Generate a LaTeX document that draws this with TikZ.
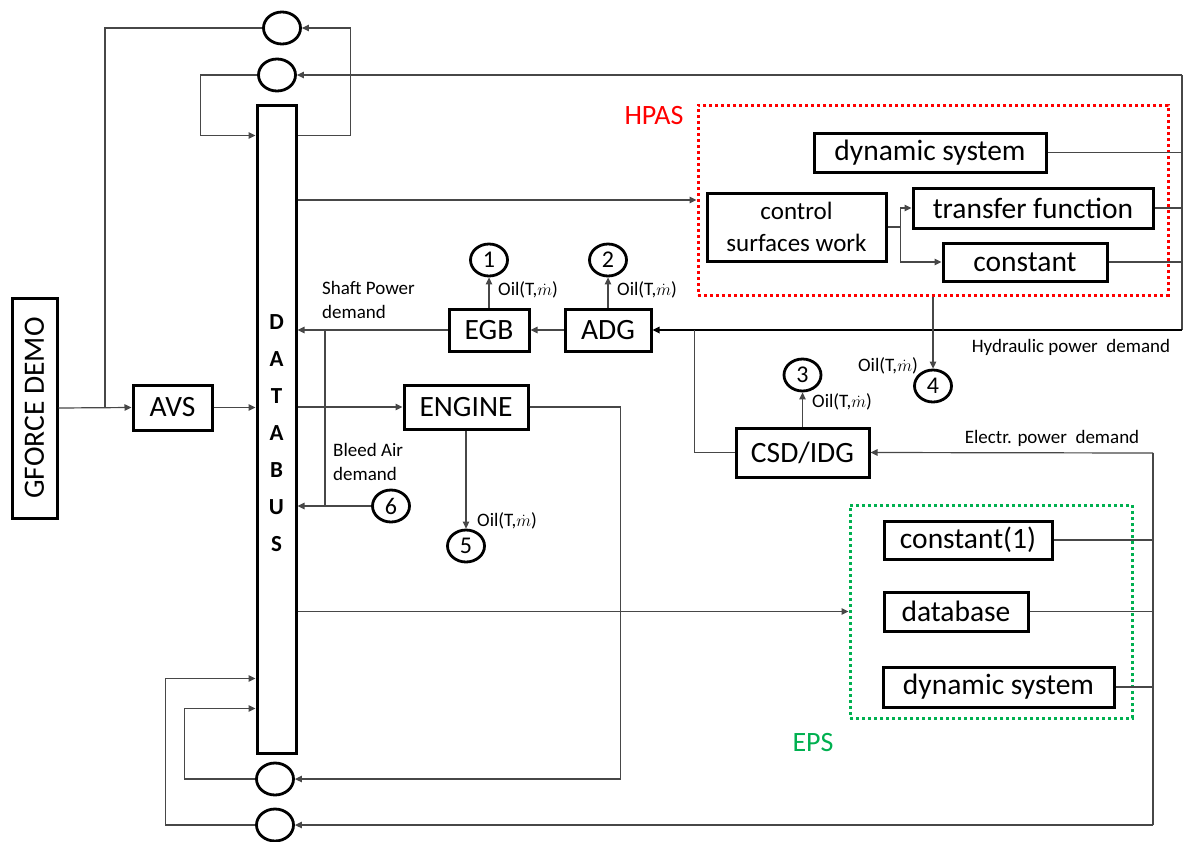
\documentclass[tikz,border=0pt]{standalone}
\usepackage{fontspec}
\setmainfont{Carlito}
\usepackage{xcolor}
\usepackage{tikz}
\usetikzlibrary{
  arrows.meta,
  shapes.geometric,
}

\definecolor{hpasred}{RGB}{255,0,0}
\definecolor{epsgreen}{RGB}{0,176,80}
\newcommand{\oilflow}{Oil(T,$\dot{m}$)}

\begin{document}
\begin{tikzpicture}[
  x=1pt, y=-1pt,
  every node/.style={font=\fontsize{20}{24}\selectfont},
  block/.style={
    rectangle, draw, line width=3pt, inner sep=0pt,
    align=center, font=\fontsize{29.5}{33}\selectfont,
  },
  bustext/.style={
    align=center, inner sep=0pt, yshift=-4pt,
    font=\bfseries\fontsize{23}{37}\selectfont,
  },
  sumnode/.style={
    ellipse, draw, line width=2.8pt, inner sep=0pt,
    minimum width=37, minimum height=32,
  },
  port/.style={sumnode, font=\fontsize{24}{26}\selectfont},
  group/.style={
    rectangle, draw, line width=3pt, inner sep=0pt,
    dash pattern=on 2.6pt off 3.4pt,
  },
  tag/.style={inner sep=0pt, font=\fontsize{19}{24}\selectfont},
  line/.style={line width=1.2pt, black!72},
  arrow/.style={line, -{Triangle[length=7pt, width=6.5pt]}},
]
  \useasboundingbox (0,0) rectangle (1183,841);

  % Source and data bus
  \node[block, minimum width=220, minimum height=45, rotate=90] (gforce) at (34.5,408) {GFORCE DEMO};
  \node[block, minimum width=79, minimum height=45] (avs) at (172.5,407.5) {AVS};
  \node[block, minimum width=39, minimum height=648,
        label={[bustext]center:{D\\A\\T\\A\\B\\U\\S}}] (databus) at (276.5,429) {};

  % Summing points
  \node[sumnode] (sumA) at (282,28) {};
  \node[sumnode] (sumB) at (277,75) {};
  \node[sumnode] (sumC) at (275,779) {};
  \node[sumnode] (sumD) at (275,825) {};

  % Engine side
  \node[block, minimum width=124, minimum height=44] (engine) at (466,407) {ENGINE};
  \node[block, minimum width=80, minimum height=42] (egb) at (489,330) {EGB};
  \node[block, minimum width=86, minimum height=42] (adg) at (608,330) {ADG};
  \node[block, minimum width=133, minimum height=49] (csd) at (802.5,452.5) {CSD/IDG};

  % Oil ports
  \node[port] (n1) at (489,260) {1};
  \node[port] (n2) at (608,260) {2};
  \node[port] (n3) at (802.5,375) {3};
  \node[port] (n4) at (933,386) {4};
  \node[port] (n5) at (466,546) {5};
  \node[port] (n6) at (391,506) {6};

  % HPAS
  \node[group, draw=hpasred, minimum width=470, minimum height=190] (hpas) at (933,200) {};
  \node[text=hpasred, font=\fontsize{28}{32}\selectfont] (hpaslbl) at (654,116) {HPAS};
  \node[block, minimum width=232, minimum height=39] (dynhp) at (930,152.5) {dynamic system};
  \node[block, minimum width=179, minimum height=68,
        font=\fontsize{25}{32}\selectfont] (ctrl) at (796.5,227) {control\\surfaces work};
  \node[block, minimum width=240, minimum height=40] (transfer) at (1033,208) {transfer function};
  \node[block, minimum width=164, minimum height=38] (consthp) at (1025,262) {constant};

  % EPS
  \node[group, draw=epsgreen, minimum width=282, minimum height=213] (eps) at (991,611.5) {};
  \node[text=epsgreen, font=\fontsize{28}{32}\selectfont] (epslbl) at (813,742) {EPS};
  \node[block, minimum width=168, minimum height=38] (const1) at (968,540) {constant(1)};
  \node[block, minimum width=144, minimum height=39] (database) at (956,611.5) {database};
  \node[block, minimum width=231, minimum height=40] (dyneps) at (998.5,687) {dynamic system};

  % Signal labels
  \node[tag, anchor=west, align=left] (shaftlbl) at (322,300) {Shaft Power\\demand};
  \node[tag, anchor=west, align=left] (bleedlbl) at (333,461.5) {Bleed Air\\demand};
  \node[tag] (hydlbl) at (1071,347) {Hydraulic power\ \ demand};
  \node[tag] (eleclbl) at (1052,438) {Electr. power\ \ demand};
  \node[tag, anchor=west] (oil1) at (498,290) {\oilflow};
  \node[tag, anchor=west] (oil2) at (617,290) {\oilflow};
  \node[tag, anchor=west] (oil3) at (812,402) {\oilflow};
  \node[tag, anchor=east] (oil4) at (918,366) {\oilflow};
  \node[tag, anchor=west] (oil5) at (477,521) {\oilflow};

  % Bus points
  \coordinate (split) at (105,408);
  \coordinate (tap) at (325,330);
  \coordinate (hydtop) at (1182,75);
  \coordinate (hydbot) at (1182,330);
  \coordinate (eltop) at (1153,453);
  \coordinate (elbot) at (1153,825);

  % Input path
  \draw[arrow] (gforce.south) -- (avs.west);
  \draw[arrow] (avs.east) -- (databus.west |- avs.east);
  \draw[line] (sumA.west) -| (split);

  % Top loops
  \draw[arrow] ([yshift=-32pt]databus.north east) -- ++(53,0) |- (sumA.east);
  \draw[arrow] (sumB.west) -- ++(-56.5,0) |- ([yshift=-32pt]databus.north west);

  % Bottom loops
  \draw[arrow] (sumC.west) -- ++(-70.5,0) |- ([yshift=46pt]databus.south west);
  \draw[arrow] (sumD.west) -- ++(-90,0) |- ([yshift=76pt]databus.south west);

  % Hydraulic power demand
  \draw[arrow] (databus.east |- hpas.west) -- (hpas.west);
  \draw[line] (ctrl.east) -- ++(13,0) coordinate (fork);
  \draw[arrow] (fork) |- (transfer.west);
  \draw[arrow] (fork) |- (consthp.west);
  \draw[line] (dynhp.east) -- (dynhp.east -| hydtop);
  \draw[line] (transfer.east) -- (transfer.east -| hydtop);
  \draw[line] (consthp.east) -- (consthp.east -| hydtop);
  \draw[arrow] (hydtop) -- (sumB.east);
  \draw[line] (hydtop) -- (hydbot);
  \draw[arrow, line width=1.6pt, black] (hydbot) -- (adg.east);
  \draw[arrow] (hpas.south) -- (n4.north);

  % Shaft power and bleed air
  \draw[arrow] (adg.west) -- (egb.east);
  \draw[arrow] (egb.west) -- (databus.east |- egb.west);
  \draw[arrow] (egb.north) -- (n1.south);
  \draw[arrow] (adg.north) -- (n2.south);
  \draw[arrow] (n6.west) -- (databus.east |- n6.west);
  \draw[line] (tap) -- (tap |- n6.west);

  % Engine
  \draw[arrow] (databus.east |- engine.west) -- (engine.west);
  \draw[arrow] (engine.east) -- ++(91,0) |- (sumC.east);
  \draw[arrow] (engine.south) -- (n5.north);

  % Electrical power demand
  \draw[line] (csd.west) -| ([xshift=42pt]adg.east);
  \draw[arrow] (csd.north) -- (n3.south);
  \draw[arrow] (databus.east |- eps.west) -- (eps.west);
  \draw[line] (const1.east) -- (const1.east -| eltop);
  \draw[line] (database.east) -- (database.east -| eltop);
  \draw[line] (dyneps.east) -- (dyneps.east -| eltop);
  \draw[arrow] (eltop) -- (csd.east);
  \draw[line] (eltop) -- (elbot);
  \draw[arrow] (elbot) -- (sumD.east);

\end{tikzpicture}
\end{document}
